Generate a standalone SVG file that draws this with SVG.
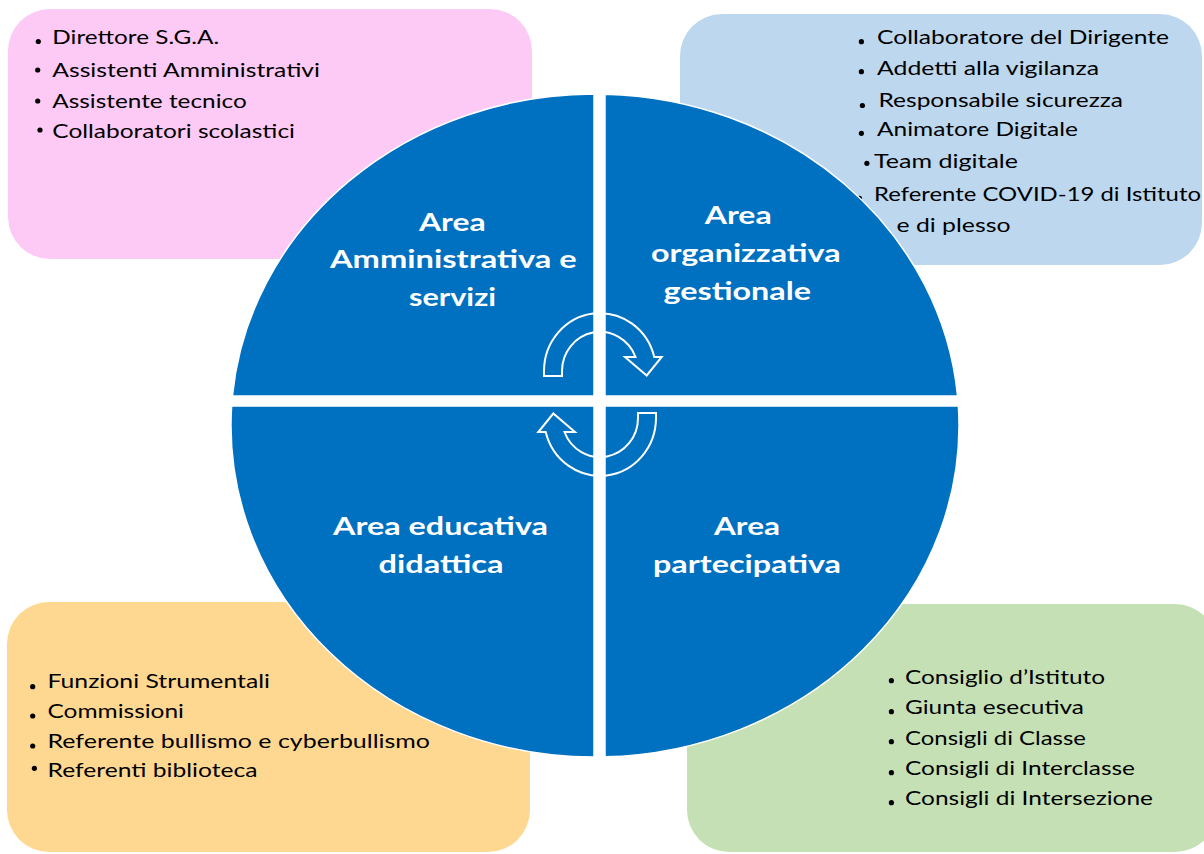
<svg xmlns="http://www.w3.org/2000/svg" xmlns:xlink="http://www.w3.org/1999/xlink" width="1204" height="854" viewBox="0 0 1204 854">
<style>
.t{font-family:Lato,"Open Sans","Liberation Sans",sans-serif;font-size:19px;fill:#000000}
.q{font-family:Lato,"Open Sans","Liberation Sans",sans-serif;font-size:25px;font-weight:700;fill:#ffffff}
.dot{fill:#000000}
.quad{fill:#0070C0;stroke:#ffffff;stroke-width:1.5}
.cyc{fill:none;stroke:#ffffff;stroke-width:2;stroke-linejoin:miter}
</style>
<defs>
<path id="cycArrow" d="M544,376 L544,371 A56,58 0 0 1 654.3,357 L661.7,357 L646.7,375.5 L625,357 L635.5,357 A38,39 0 0 0 562,371 L562,376 Z"/>
</defs>
<rect width="1204" height="854" fill="#ffffff"/>

<g id="box-amministrativa">
<rect x="8" y="9" width="524" height="250" rx="42" ry="42" fill="#FDCAF6"/>
<circle class="dot" cx="38.3" cy="41.5" r="2.6"/>
<circle class="dot" cx="37.7" cy="70" r="2.6"/>
<circle class="dot" cx="37.7" cy="101" r="2.6"/>
<circle class="dot" cx="40" cy="130" r="2.6"/>
<text class="t" x="52.3" y="44" textLength="167" lengthAdjust="spacingAndGlyphs">Direttore S.G.A.</text>
<text class="t" x="52.3" y="76.7" textLength="267.7" lengthAdjust="spacingAndGlyphs">Assistenti Amministrativi</text>
<text class="t" x="52.3" y="108.3" textLength="194.4" lengthAdjust="spacingAndGlyphs">Assistente tecnico</text>
<text class="t" x="52.3" y="138.3" textLength="242.7" lengthAdjust="spacingAndGlyphs">Collaboratori scolastici</text>
</g>

<g id="box-organizzativa">
<rect x="680" y="14" width="522" height="251" rx="42" ry="42" fill="#BDD7EE"/>
<circle class="dot" cx="861.4" cy="41.7" r="2.6"/>
<circle class="dot" cx="861.4" cy="71.7" r="2.6"/>
<circle class="dot" cx="862.4" cy="105.5" r="2.6"/>
<circle class="dot" cx="861.4" cy="133.3" r="2.6"/>
<circle class="dot" cx="866.9" cy="163.3" r="2.6"/>
<circle class="dot" cx="859.4" cy="198.3" r="2.6"/>
<text class="t" x="877" y="44" textLength="292" lengthAdjust="spacingAndGlyphs">Collaboratore del Dirigente</text>
<text class="t" x="877" y="75" textLength="222" lengthAdjust="spacingAndGlyphs">Addetti alla vigilanza</text>
<text class="t" x="878.5" y="107" textLength="244.5" lengthAdjust="spacingAndGlyphs">Responsabile sicurezza</text>
<text class="t" x="877" y="136" textLength="201" lengthAdjust="spacingAndGlyphs">Animatore Digitale</text>
<text class="t" x="874" y="168" textLength="144" lengthAdjust="spacingAndGlyphs">Team digitale</text>
<text class="t" x="874" y="201" textLength="327" lengthAdjust="spacingAndGlyphs">Referente COVID-19 di Istituto</text>
<text class="t" x="896.5" y="232" textLength="114" lengthAdjust="spacingAndGlyphs">e di plesso</text>
</g>

<g id="box-educativa">
<rect x="7" y="602" width="523" height="250" rx="42" ry="42" fill="#FED891"/>
<circle class="dot" cx="32.7" cy="686.7" r="2.6"/>
<circle class="dot" cx="32.7" cy="716" r="2.6"/>
<circle class="dot" cx="32.7" cy="746" r="2.6"/>
<circle class="dot" cx="34.4" cy="768.3" r="2.6"/>
<text class="t" x="47.5" y="688" textLength="222.5" lengthAdjust="spacingAndGlyphs">Funzioni Strumentali</text>
<text class="t" x="47.5" y="718" textLength="136.5" lengthAdjust="spacingAndGlyphs">Commissioni</text>
<text class="t" x="47.5" y="747.5" textLength="382.5" lengthAdjust="spacingAndGlyphs">Referente bullismo e cyberbullismo</text>
<text class="t" x="47.5" y="777" textLength="210" lengthAdjust="spacingAndGlyphs">Referenti biblioteca</text>
</g>

<g id="box-partecipativa">
<rect x="687" y="604" width="530" height="248" rx="42" ry="42" fill="#C5E0B4"/>
<circle class="dot" cx="891.4" cy="680.7" r="2.6"/>
<circle class="dot" cx="891.4" cy="711.7" r="2.6"/>
<circle class="dot" cx="891.4" cy="741.7" r="2.6"/>
<circle class="dot" cx="891.4" cy="772.7" r="2.6"/>
<circle class="dot" cx="891.4" cy="802.7" r="2.6"/>
<text class="t" x="905" y="683.5" textLength="200" lengthAdjust="spacingAndGlyphs">Consiglio d’Istituto</text>
<text class="t" x="905" y="713.5" textLength="179" lengthAdjust="spacingAndGlyphs">Giunta esecutiva</text>
<text class="t" x="905" y="744.5" textLength="181" lengthAdjust="spacingAndGlyphs">Consigli di Classe</text>
<text class="t" x="905" y="775" textLength="230" lengthAdjust="spacingAndGlyphs">Consigli di Interclasse</text>
<text class="t" x="905" y="805" textLength="248" lengthAdjust="spacingAndGlyphs">Consigli di Intersezione</text>
</g>

<g id="quad-amministrativa">
<path class="quad" d="M594,396 L232.44,396 A364,331.5 0 0 1 594,94 Z"/>
<text class="q" x="419" y="230.7" textLength="66.7" lengthAdjust="spacingAndGlyphs">Area</text>
<text class="q" x="330" y="268.3" textLength="246.7" lengthAdjust="spacingAndGlyphs">Amministrativa e</text>
<text class="q" x="409" y="306" textLength="87" lengthAdjust="spacingAndGlyphs">servizi</text>
</g>

<g id="quad-organizzativa">
<path class="quad" d="M605,396 L605,94.13 A364,331.5 0 0 1 957.56,396 Z"/>
<text class="q" x="704.7" y="224" textLength="67" lengthAdjust="spacingAndGlyphs">Area</text>
<text class="q" x="651" y="262" textLength="189.5" lengthAdjust="spacingAndGlyphs">organizzativa</text>
<text class="q" x="663.5" y="299.5" textLength="147.5" lengthAdjust="spacingAndGlyphs">gestionale</text>
</g>

<g id="quad-educativa">
<path class="quad" d="M594,406 L594,757 A364,331.5 0 0 1 231.63,406 Z"/>
<text class="q" x="333" y="535" textLength="215" lengthAdjust="spacingAndGlyphs">Area educativa</text>
<text class="q" x="378.5" y="572.5" textLength="125" lengthAdjust="spacingAndGlyphs">didattica</text>
</g>

<g id="quad-partecipativa">
<path class="quad" d="M605,406 L958.37,406 A364,331.5 0 0 1 605,756.87 Z"/>
<text class="q" x="714" y="535" textLength="66" lengthAdjust="spacingAndGlyphs">Area</text>
<text class="q" x="653" y="572.5" textLength="188" lengthAdjust="spacingAndGlyphs">partecipativa</text>
</g>

<g id="connectors">
<use xlink:href="#cycArrow" href="#cycArrow" class="cyc"/>
<use xlink:href="#cycArrow" href="#cycArrow" class="cyc" transform="rotate(180 600 394.5)"/>
</g>
</svg>
